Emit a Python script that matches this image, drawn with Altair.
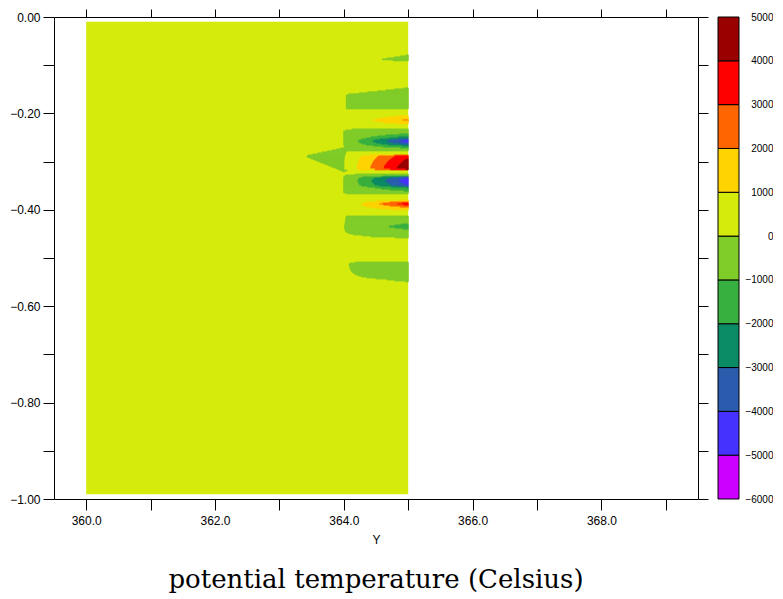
import numpy as np
import pandas as pd
import altair as alt

# ---------------- data ----------------
Y_COLUMNS = [360, 361, 362, 363, 364, 365]          # grid columns (Y)
Z_TOP, Z_BOTTOM = -0.01, -0.99                       # first / last level
BACKGROUND = 20.0                                    # value of the quiet field

# column Y=364 : (Z, value) profile
Z_364 = [-0.2344, -0.2365, -0.2641, -0.2666, -0.2691, -0.2712, -0.2755, -0.2799,
         -0.2842, -0.2884, -0.2967, -0.3050, -0.3133, -0.3210, -0.3226,
         -0.3299, -0.3320, -0.3645, -0.3666]
V_364 = [20, 0, 0, 20, 20, 0, -3, -8,
         -16, -28, -16, -8, -3, 0, 20,
         20, 0, 0, 20]

# column Y=365 : (Z, value) profile
Z_365 = [-0.0747, -0.0788, -0.0830, -0.0882, -0.0913, -0.0934,
         -0.1442, -0.1473, -0.1515, -0.1546, -0.1577, -0.1598, -0.1618, -0.1902,
         -0.1913, -0.2044, -0.2147, -0.2220,
         -0.2317, -0.2427, -0.2483, -0.2525, -0.2552, -0.2587, -0.2620, -0.2662,
         -0.2691, -0.2732, -0.2774,
         -0.2853, -0.2884, -0.2988, -0.3112, -0.3160, -0.3178,
         -0.3237, -0.3263, -0.3299, -0.3313, -0.3324, -0.3334, -0.3402, -0.3506,
         -0.3527, -0.3558, -0.3624, -0.3678, -0.3703,
         -0.3745, -0.3803, -0.3828, -0.3853, -0.3886, -0.3921, -0.3963, -0.4010,
         -0.4066,
         -0.4118, -0.4139, -0.4232, -0.4288, -0.4357, -0.4419, -0.4475, -0.4523,
         -0.4579, -0.4606,
         -0.5052, -0.5077, -0.5104, -0.5124, -0.5270, -0.5373, -0.5436, -0.5492,
         -0.5519]
V_365 = [20, 0, -4, -14, 0, 20,
         20, 0, -8, -19, -45, -94, -480, -480,
         0, 1000, 2200, 1000,
         0, -1000, -2000, -3000, -4000, -4600, -4000, -3000,
         -2000, -1000, 0,
         800, 3700, 4300, 4800, 4800, 20,
         20, 0, -1000, -2000, -3000, -4000, -4700, -4000,
         -3000, -2000, -1000, 0, 20,
         20, 1000, 2000, 3000, 3650, 3000, 2000, 1000,
         20,
         20, -500, -700, -1000, -1500, -1000, -300, -60,
         0, 20,
         20, 0, -150, -230, -150, -61, -12, 0,
         20]

# contour levels and fill colours
LEVELS = [-6000, -5000, -4000, -3000, -2000, -1000, 0, 1000, 2000, 3000, 4000, 5000]
COLORS = ["#cc00ff", "#4632ff", "#2a5cae", "#0b8a66", "#38b040", "#80cc28",
          "#d4eb0c", "#ffd300", "#ff6600", "#ff0000", "#990000"]
BIN_LOWS = LEVELS[:-1]

X_DOMAIN = [359.5, 369.5]
X_TICKS = list(range(360, 370))
Z_TICKS = [round(-0.1 * i, 1) for i in range(0, 11)]

# ---------------- contour fill (linear interpolation between grid values) ----------------
def column_value(col, depth):
    if col == 364:
        return float(np.interp(depth, [-z for z in Z_364], V_364, left=BACKGROUND, right=BACKGROUND))
    if col == 365:
        return float(np.interp(depth, [-z for z in Z_365], V_365, left=BACKGROUND, right=BACKGROUND))
    return BACKGROUND


def bin_of(v):
    i = int(np.searchsorted(LEVELS, v, side="right")) - 1
    return BIN_LOWS[max(0, min(len(BIN_LOWS) - 1, i))]


bg_bin = bin_of(BACKGROUND)
n_rows = int(round((Z_TOP - Z_BOTTOM) * 482))
dd = (Z_TOP - Z_BOTTOM) / n_rows
records = []
for i in range(n_rows):
    d0 = -Z_TOP + i * dd
    d1 = d0 + dd
    dc = 0.5 * (d0 + d1)
    vals = [column_value(c, dc) for c in Y_COLUMNS]
    runs = []
    for a, va, vb in zip(Y_COLUMNS[:-1], vals[:-1], vals[1:]):
        ts = [0.0, 1.0]
        lo, hi = min(va, vb), max(va, vb)
        for T in LEVELS[1:-1]:
            if lo < T < hi:
                ts.append((T - va) / (vb - va))
        ts.sort()
        for t0, t1 in zip(ts[:-1], ts[1:]):
            if t1 - t0 <= 1e-9:
                continue
            b = bin_of(va + (vb - va) * 0.5 * (t0 + t1))
            x0, x1 = a + t0, a + t1
            if runs and runs[-1][2] == b and abs(runs[-1][1] - x0) < 1e-9:
                runs[-1][1] = x1
            else:
                runs.append([x0, x1, b])
    for x0, x1, b in runs:
        if b != bg_bin:
            records.append({"y": x0, "y2": x1, "z": -d0, "z2": -d1, "level": b})

runs_df = pd.DataFrame(records)
bg_df = pd.DataFrame([{"y": Y_COLUMNS[0], "y2": Y_COLUMNS[-1], "z": Z_TOP, "z2": Z_BOTTOM, "level": bg_bin}])

color_scale = alt.Scale(domain=BIN_LOWS, range=COLORS)
x_scale = alt.Scale(domain=X_DOMAIN, nice=False, zero=False)
z_scale = alt.Scale(domain=[-1.0, 0.0], nice=False, zero=False)

AX_FONT = "Liberation Sans"

bottom_axis = alt.Axis(values=X_TICKS, tickSize=11, grid=False, title="Y",
                       labelExpr="datum.value % 2 == 0 ? format(datum.value, '.1f') : ''",
                       labelFont=AX_FONT, labelFontSize=12, labelPadding=5, labelFlush=False,
                       labelOverlap=False, titleFont=AX_FONT, titleFontSize=12,
                       titleFontWeight="normal", titlePadding=8,
                       domainColor="black", tickColor="black", labelColor="black", titleColor="black")
top_axis = alt.Axis(orient="top", values=X_TICKS, tickSize=8, grid=False, labels=False, title="",
                    domainColor="black", tickColor="black")
left_axis = alt.Axis(values=Z_TICKS, tickSize=11, grid=False, title="",
                     labelExpr="round(datum.value * 10) % 2 == 0 ? format(datum.value, '.2f') : ''",
                     labelFont=AX_FONT, labelFontSize=12, labelPadding=3, minExtent=46,
                     labelOverlap=False, labelColor="black",
                     domainColor="black", tickColor="black")
right_axis = alt.Axis(orient="right", values=Z_TICKS, tickSize=10, grid=False, labels=False, title="",
                      domainColor="black", tickColor="black")

bg_layer = alt.Chart(bg_df).mark_rect().encode(
    x=alt.X("y:Q", scale=x_scale, axis=bottom_axis),
    x2="y2",
    y=alt.Y("z:Q", scale=z_scale, axis=left_axis),
    y2="z2",
    color=alt.Color("level:O", scale=color_scale, legend=None),
)

runs_layer = alt.Chart(runs_df).mark_rect(strokeWidth=0.8).encode(
    x=alt.X("y:Q", scale=x_scale, axis=top_axis),
    x2="y2",
    y=alt.Y("z:Q", scale=z_scale, axis=right_axis),
    y2="z2",
    color=alt.Color("level:O", scale=color_scale, legend=None),
    stroke=alt.Stroke("level:O", scale=color_scale, legend=None),
)

main = alt.layer(bg_layer, runs_layer).resolve_axis(x="independent", y="independent").properties(
    width=644, height=482,
    title=alt.TitleParams("potential temperature (Celsius)", orient="bottom", anchor="middle",
                          font="DejaVu Serif", fontSize=26, fontWeight="normal", color="black",
                          offset=22),
)

# ---------------- colour bar ----------------
bar_df = pd.DataFrame({"bar": ["cb"] * len(BIN_LOWS), "lo": BIN_LOWS, "hi": LEVELS[1:], "level": BIN_LOWS})
colorbar = alt.Chart(bar_df).mark_rect(stroke="black", strokeWidth=1).encode(
    x=alt.X("bar:N", axis=None, scale=alt.Scale(paddingInner=0, paddingOuter=0)),
    y=alt.Y("lo:Q", scale=alt.Scale(domain=[LEVELS[0], LEVELS[-1]], nice=False, zero=False),
            axis=alt.Axis(orient="right", values=LEVELS, format="d", ticks=False, tickSize=0,
                          domain=False, grid=False, labelAlign="right", labelBaseline="middle",
                          labelPadding=34, labelFont=AX_FONT, labelFontSize=10, labelFlush=False,
                          labelOverlap=False, labelColor="black", title="")),
    y2="hi",
    color=alt.Color("level:O", scale=color_scale, legend=None),
).properties(width=21, height=482)

chart = alt.hconcat(main, colorbar, spacing=20, bounds="flush").configure(
    padding={"left": 0, "top": 0, "right": 0, "bottom": 0},
    background="white",
).configure_view(stroke=None)

chart.save("out.html", embed_options={"renderer": "svg", "actions": False})
